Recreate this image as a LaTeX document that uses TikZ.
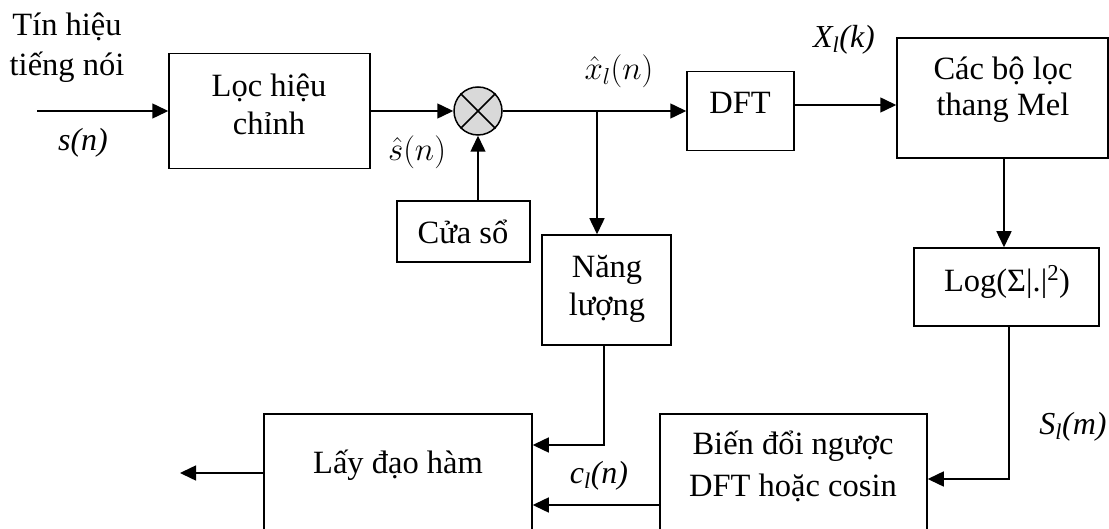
\RequirePackage{fix-cm}
\documentclass[tikz,border=0pt]{standalone}
\usepackage{fontspec}
\setmainfont{Liberation Serif}
\usetikzlibrary{arrows.meta}
\begin{document}
\begin{tikzpicture}[x=1pt,y=-1pt, line width=1.5pt,
  box/.style={draw, line width=1.5pt, rectangle, inner sep=0pt},
  txt/.style={font=\fontsize{32.5}{38}\selectfont, align=center, inner sep=0pt},
  lbl/.style={font=\fontsize{32}{38}\selectfont\itshape, inner sep=0pt},
  mth/.style={font=\fontsize{33}{38}\selectfont, inner sep=0pt},
  arr/.style={-{Triangle[length=16pt,width=15pt]}, line width=1.5pt}]
\useasboundingbox (0,0) rectangle (1109,529);
\clip (0,0) rectangle (1109,529);
% boxes
\node[box, minimum width=201pt, minimum height=115pt] (loc) at (269.5,111) {};
\node[box, minimum width=133pt, minimum height=61pt] (cuaso) at (463.5,231.5) {};
\node[box, minimum width=129pt, minimum height=110pt] (nang) at (606.5,290) {};
\node[box, minimum width=107pt, minimum height=79pt] (dft) at (740.5,111) {};
\node[box, minimum width=211pt, minimum height=120pt] (mel) at (1002.5,98) {};
\node[box, minimum width=185pt, minimum height=78pt] (log) at (1006.5,287) {};
\node[box, minimum width=267pt, minimum height=130pt] (bien) at (793.5,479) {};
\node[box, minimum width=268pt, minimum height=130pt] (lay) at (398,479) {};
\node[circle, draw, fill=gray!30, line width=1.5pt, minimum size=48pt, inner sep=0pt] (mul) at (478,111) {};
\draw (mul.north west) -- (mul.south east);
\draw (mul.north east) -- (mul.south west);
% texts
\node[txt, font=\fontsize{32.5}{40}\selectfont] (tin) at (67,48) {Tín hiệu\\tiếng nói};
\node[txt] (tloc) at (269,104) {Lọc hiệu\\chỉnh};
\node[txt] (tcua) at (463,232) {Cửa sổ};
\node[txt] (tnang) at (607,289) {Năng\\lượng};
\node[txt] (tdft) at (740,103) {DFT};
\node[txt, font=\fontsize{32.5}{36}\selectfont] (tmel) at (1003,90) {Các bộ lọc\\thang Mel};
\node[txt] (tlog) at (1007,282) {Log(Σ|.|\textsuperscript{2})};
\node[txt, font=\fontsize{32.5}{42}\selectfont] (tbien) at (793,466) {Biến đổi ngược\\DFT hoặc cosin};
\node[txt] (tlay) at (398,465) {Lấy đạo hàm};
% labels
\node[lbl] (sn) at (83,143) {s(n)};
\node[mth] (shat) at (417,152) {$\hat{s}(n)$};
\node[mth] (xhat) at (619,71) {$\hat{x}_l(n)$};
\node[lbl] (xk) at (844,40) {X\textsubscript{l}(k)};
\node[lbl] (sm) at (1073,427) {S\textsubscript{l}(m)};
\node[lbl] (cn) at (599,476) {c\textsubscript{l}(n)};
% connectors
\coordinate (in) at (37,111);
\coordinate (br) at (597,111);
\coordinate (out) at (180,473);
\draw[arr] (in) -- (loc.west);
\draw[arr] (loc.east) -- (mul.west);
\draw[arr] (mul.south |- cuaso.north) -- (mul.south);
\draw[arr] (mul.east) -- (dft.west);
\draw[arr] (br) -- (br |- nang.north);
\draw[arr] ([yshift=6pt]dft.east) -- ([yshift=6pt]dft.east -| mel.west);
\draw[arr] ([xshift=1.5pt]mel.south) -- ([xshift=1.5pt]mel.south |- log.north);
\draw[arr] ([xshift=2.5pt]log.south) |- (bien.east);
\draw[arr] ([yshift=-26pt]bien.west) -- ([yshift=-26pt]lay.east);
\draw[arr] ([xshift=-2.5pt]nang.south) |- ([yshift=34pt]lay.east);
\draw[arr] ([yshift=6pt]lay.west) -- (out);
\end{tikzpicture}
\end{document}
